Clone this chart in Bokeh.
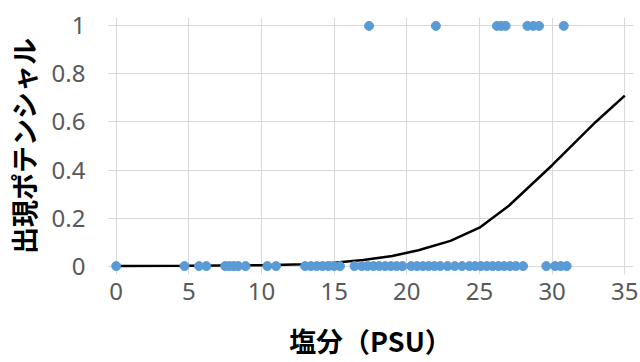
from bokeh.plotting import figure
from bokeh.models import FixedTicker
from bokeh.embed import file_html
from bokeh.resources import INLINE

# Observed points: presence (1) / absence (0) against salinity
absent_x = [0, 4.7, 5.7, 6.2, 7.5, 7.8, 8.1, 8.4, 8.9, 10.4, 11.0,
            13.0, 13.4, 13.8, 14.2, 14.6, 15.0, 15.4, 16.4, 16.9, 17.3,
            17.7, 18.1, 18.5, 18.9, 19.3, 19.7, 20.3, 20.7, 21.1, 21.5,
            21.9, 22.3, 22.8, 23.3, 23.8, 24.3, 24.7, 25.1, 25.5, 25.9,
            26.3, 26.7, 27.1, 27.5, 28.0, 29.6, 30.2, 30.6, 31.0]
absent_y = [0] * len(absent_x)
present_x = [17.4, 22.0, 26.2, 26.5, 26.8, 28.3, 28.7, 29.1, 30.8]
present_y = [1] * len(present_x)

# Fitted potential curve
curve_x = [0, 5, 10, 13, 15, 17, 19, 20.8, 23, 25, 27, 30, 33, 35]
curve_y = [0.0005, 0.0015, 0.004, 0.008, 0.014, 0.025, 0.042, 0.066,
           0.105, 0.16, 0.25, 0.42, 0.6, 0.71]

x_ticks = [0, 5, 10, 15, 20, 25, 30, 35]
y_ticks = [0, 0.2, 0.4, 0.6, 0.8, 1]
y_tick_labels = ["0", "0.2", "0.4", "0.6", "0.8", "1"]

p = figure(width=640, height=362, output_backend="svg", toolbar_location=None,
           x_range=(-0.6, 35.6), y_range=(-0.035, 1.035),
           min_border_left=106, min_border_right=7,
           min_border_top=17, min_border_bottom=87)
p.outline_line_color = None
p.background_fill_color = "white"
p.border_fill_color = "white"

p.xaxis.ticker = FixedTicker(ticks=x_ticks)
p.yaxis.ticker = FixedTicker(ticks=y_ticks)
p.yaxis.major_label_overrides = {t: s for t, s in zip(y_ticks, y_tick_labels)}

for ax in (p.xaxis, p.yaxis):
    ax.axis_line_color = None
    ax.major_tick_line_color = None
    ax.minor_tick_line_color = None
    ax.major_tick_out = 0
    ax.major_tick_in = 0
    ax.minor_tick_out = 0
    ax.minor_tick_in = 0
    ax.major_label_text_font = "Noto Sans"
    ax.major_label_text_font_size = "24px"
    ax.major_label_text_color = "#595959"
    ax.axis_label_text_font = "Noto Sans CJK JP"
    ax.axis_label_text_font_style = "bold"
    ax.axis_label_text_font_size = "27px"
    ax.axis_label_text_color = "#000000"

p.yaxis.major_label_standoff = 22
p.xaxis.major_label_standoff = 8
p.yaxis.axis_label = "出現ポテンシャル"
p.xaxis.axis_label = "塩分（PSU）"
p.yaxis.axis_label_standoff = 6
p.xaxis.axis_label_standoff = 18

p.xgrid.grid_line_color = "#D9D9D9"
p.ygrid.grid_line_color = "#D9D9D9"
p.xgrid.grid_line_width = 1
p.ygrid.grid_line_width = 1

p.line(curve_x, curve_y, line_color="black", line_width=2.5)
p.scatter(absent_x, absent_y, size=9, fill_color="#5B9BD5", line_color="#5B9BD5")
p.scatter(present_x, present_y, size=9, fill_color="#5B9BD5", line_color="#5B9BD5")

open("out.html", "w").write(file_html(p, INLINE))
